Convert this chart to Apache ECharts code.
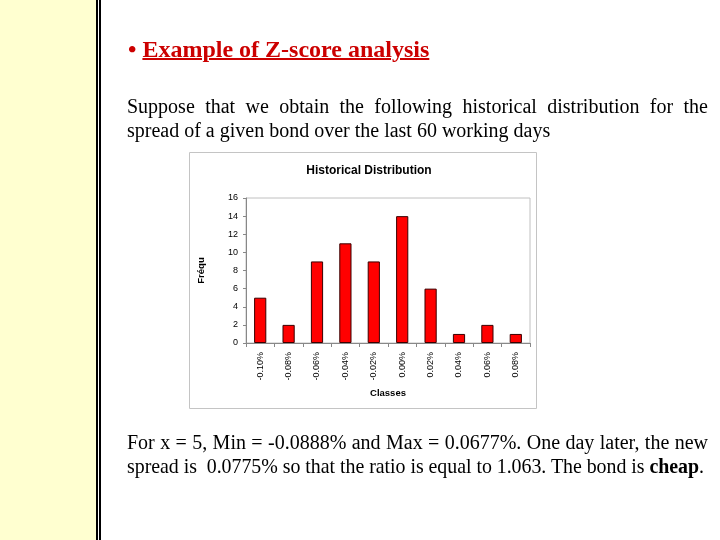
<!DOCTYPE html>
<html><head><meta charset="utf-8">
<script src="https://cdn.jsdelivr.net/npm/echarts@6/dist/echarts.min.js"></script>
<style>
html,body{margin:0;padding:0;background:#fff;width:720px;height:540px;overflow:hidden;}
#side{position:absolute;left:0;top:0;width:96px;height:540px;background:#FFFFD0;}
.vl{position:absolute;top:0;height:540px;width:2px;background:#000;}
#chart{position:absolute;left:0;top:0;width:720px;height:540px;}
.t{position:absolute;left:127px;width:581px;font-family:"Liberation Serif","Times New Roman",serif;font-size:20px;line-height:24px;color:#000;white-space:nowrap;}
.j{text-align:justify;text-align-last:justify;}
#head{position:absolute;left:128px;top:36px;font-family:"Liberation Serif","Times New Roman",serif;font-size:24px;font-weight:bold;color:#CC0000;white-space:nowrap;}
#head u{text-decoration:underline;text-decoration-thickness:2px;}
</style></head>
<body>
<div id="side"></div>
<div class="vl" style="left:96px"></div>
<div class="vl" style="left:99px"></div>
<div id="chart"></div>
<div id="head">• <u>Example of Z-score analysis</u></div>
<div class="t j" style="top:94px">Suppose that we obtain the following historical distribution for the</div>
<div class="t" style="top:118px">spread of a given bond over the last 60 working days</div>
<div class="t j" style="top:430px">For x = 5, Min = -0.0888% and Max = 0.0677%. One day later, the new</div>
<div class="t" style="top:454px;font-size:19.9px;letter-spacing:-0.03px">spread is&nbsp; 0.0775% so that the ratio is equal to 1.063. The bond is <b>cheap</b>.</div>
<script>
const chartTitle = "Historical Distribution";
const classes = ["-0.10%","-0.08%","-0.06%","-0.04%","-0.02%","0.00%","0.02%","0.04%","0.06%","0.08%"];
const frequencies = [5,2,9,11,9,14,6,1,2,1];
const yTicks = {min:0, max:16, interval:2};
const xName = "Classes";
const yName = "Fréqu";

const chart = echarts.init(document.getElementById('chart'), null, {renderer:'canvas'});
chart.setOption({
  animation:false,
  backgroundColor:'transparent',
  graphic:[{type:'rect',shape:{x:189.5,y:152.5,width:347,height:256},style:{fill:'#fff',stroke:'#c4c4c4',lineWidth:1},z:-10}],
  title:{text:chartTitle,left:364,top:160,textAlign:'center',
    textStyle:{fontFamily:'Liberation Sans, Arial, sans-serif',fontSize:12,fontWeight:'bold',color:'#000'}},
  grid:{left:246,top:198,width:284,height:145,show:true,borderColor:'#c0c0c0',borderWidth:1,backgroundColor:'#fff'},
  xAxis:{type:'category',data:classes,name:xName,nameLocation:'middle',nameGap:45,
    nameTextStyle:{fontFamily:'Liberation Sans, Arial, sans-serif',fontSize:9.5,fontWeight:'bold',color:'#000'},
    axisLine:{lineStyle:{color:'#888',width:1}},
    axisTick:{show:true,alignWithLabel:false,length:4,lineStyle:{color:'#888'}},
    axisLabel:{rotate:90,fontFamily:'Liberation Sans, Arial, sans-serif',fontSize:9,color:'#000',margin:9},
    splitLine:{show:false}},
  yAxis:{type:'value',min:yTicks.min,max:yTicks.max,interval:yTicks.interval,name:yName,nameLocation:'middle',nameGap:40,
    nameTextStyle:{fontFamily:'Liberation Sans, Arial, sans-serif',fontSize:9.5,fontWeight:'bold',color:'#000'},
    axisLine:{show:true,lineStyle:{color:'#888',width:1}},
    axisTick:{show:true,length:3,lineStyle:{color:'#888'}},
    axisLabel:{fontFamily:'Liberation Sans, Arial, sans-serif',fontSize:9,color:'#000',margin:8},
    splitLine:{show:false}},
  series:[{type:'bar',data:frequencies,barWidth:'43%',
    itemStyle:{color:'#FF0000',borderColor:'#3a0000',borderWidth:1}}]
});
</script>
</body></html>
